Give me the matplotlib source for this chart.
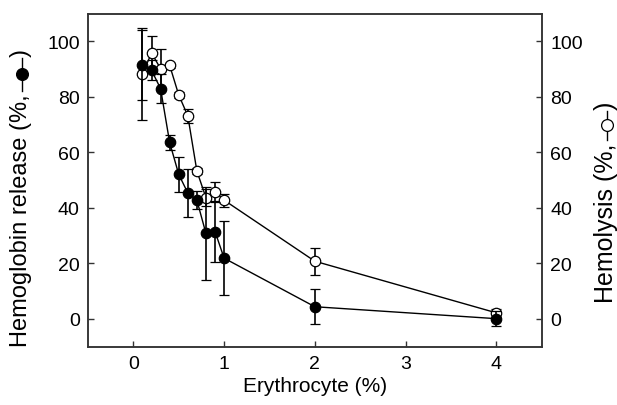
import matplotlib
matplotlib.use("Agg")
import matplotlib.pyplot as plt
from matplotlib.lines import Line2D

plt.rcParams['font.family'] = ['Liberation Sans', 'DejaVu Sans']

# Data
erythrocyte = [0.1, 0.2, 0.3, 0.4, 0.5, 0.6, 0.7, 0.8, 0.9, 1.0, 2.0, 4.0]
hb_release = [91.4, 89.6, 83.0, 63.6, 52.1, 45.4, 42.8, 30.8, 31.5, 21.9, 4.4, 0.1]
hb_err = [12.6, 3.6, 5.1, 2.6, 6.3, 8.7, 3.3, 16.7, 10.8, 13.3, 6.4, 2.7]
hemolysis = [88.3, 95.8, 90.2, 91.4, 80.7, 73.2, 53.3, 43.7, 45.9, 42.8, 20.8, 2.2]
hemo_err = [16.7, 6.3, 7.2, 1.0, 1.0, 2.5, 1.0, 3.0, 3.3, 2.3, 4.9, 1.4]
xticks = [0, 1, 2, 3, 4]
yticks = [0, 20, 40, 60, 80, 100]

W, H = 617, 406
fig = plt.figure(figsize=(W / 100, H / 100), dpi=100)
ax = fig.add_axes([0.1426, 0.1436, 0.7354, 0.8202])
ax2 = ax.twinx()

ax.errorbar(erythrocyte, hemolysis, yerr=hemo_err, fmt='-o', color='black',
            mfc='white', mec='black', ms=7.5, mew=0.9, lw=1.0, elinewidth=1.2,
            capsize=3.5, capthick=1.2, zorder=2)
ax.errorbar(erythrocyte, hb_release, yerr=hb_err, fmt='-o', color='black',
            mfc='black', mec='black', ms=7.5, mew=0.9, lw=1.0, elinewidth=1.2,
            capsize=3.5, capthick=1.2, zorder=3)

for a in (ax, ax2):
    a.set_xlim(-0.5, 4.5)
    a.set_ylim(-10, 110)
    a.set_yticks(yticks)
    for s in a.spines.values():
        s.set_linewidth(1.1)
        s.set_color('#333333')
ax.set_xticks(xticks)
ax.tick_params(axis='both', direction='in', length=4.5, width=1.0,
               labelsize=14, pad=6, color='#333333')
ax2.tick_params(axis='y', direction='in', length=4.5, width=1.0,
                labelsize=14, pad=6, color='#333333')

ax.set_xlabel('Erythrocyte (%)', fontsize=15, labelpad=3)

fig.canvas.draw()


def ylabel_with_marker(xc, ymarker, text, mfc, line_len, fs=17):
    # xc, ymarker in pixels from top-left
    xm = xc / W
    ym = 1 - ymarker / H
    half = line_len / 2 / H
    fig.add_artist(Line2D([xm, xm], [ym - half, ym + half],
                          transform=fig.transFigure, color='black', lw=1.0))
    fig.add_artist(Line2D([xm], [ym], transform=fig.transFigure, marker='o',
                          ms=8.5, mfc=mfc, mec='black', mew=0.9, lw=0))
    fig.text(xm - 0.002, ym - half - 3 / H, text, rotation=90, ha='center',
             va='top', fontsize=fs)
    fig.text(xm - 0.002, ym + half + 1 / H, ')', rotation=90, ha='center',
             va='bottom', fontsize=fs)


ylabel_with_marker(22, 75, 'Hemoglobin release (%,', 'black', 33)
ylabel_with_marker(607, 126, 'Hemolysis (%,', 'white', 29, fs=18)

fig.savefig('out.png', dpi=100)
